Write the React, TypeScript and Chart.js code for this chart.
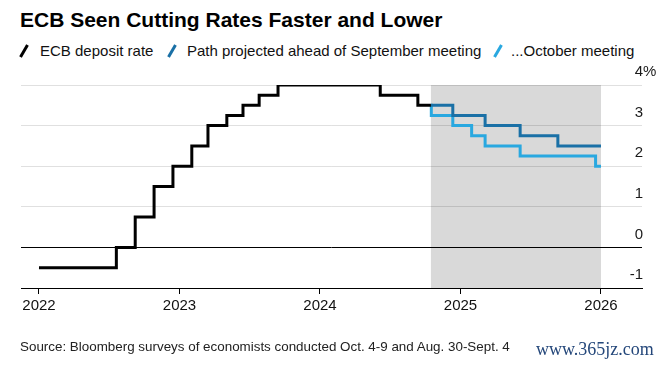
import React, { useEffect, useRef } from 'react';
import { Chart, registerables } from 'chart.js';

Chart.register(...registerables);

// ---- data ----
const depositDates = [
  '2022-01-01', '2022-07-21', '2022-09-08', '2022-10-27', '2022-12-15',
  '2023-02-02', '2023-03-16', '2023-05-04', '2023-06-15', '2023-07-27',
  '2023-09-14', '2024-06-06', '2024-09-12', '2024-10-16',
];
const depositRates = [-0.5, 0, 0.75, 1.5, 2.0, 2.5, 3.0, 3.25, 3.5, 3.75, 4.0, 3.75, 3.5, 3.5];

const septDates = ['2024-10-16', '2024-12-12', '2025-03-06', '2025-06-05', '2025-09-11', '2026-01-01'];
const septRates = [3.5, 3.25, 3.0, 2.75, 2.5, 2.5];

const octDates = ['2024-10-16', '2024-10-17', '2024-12-12', '2025-01-30', '2025-03-06', '2025-06-05', '2025-12-18', '2026-01-01'];
const octRates = [3.5, 3.25, 3.0, 2.75, 2.5, 2.25, 2.0, 2.0];

const yearTicks = [2022, 2023, 2024, 2025, 2026];
const rateTicks = [-1, 0, 1, 2, 3, 4];
const shadeStartDate = '2024-10-16';
const shadeEndDate = '2026-01-01';

const TITLE = 'ECB Seen Cutting Rates Faster and Lower';
const LEGEND_LABELS = ['ECB deposit rate', 'Path projected ahead of September meeting', '...October meeting'];
const SOURCE = 'Source: Bloomberg surveys of economists conducted Oct. 4-9 and Aug. 30-Sept. 4';
const WATERMARK = 'www.365jz.com';

// ---- styles ----
const FONT = '"Liberation Sans", Arial, Helvetica, sans-serif';
const BLACK = '#000000';
const DARK_BLUE = '#1a70a6';
const LIGHT_BLUE = '#29a8e0';
const SHADE = '#d9d9d9';
const GRID = 'rgba(0,0,0,0.12)';

function toYear(d: string): number {
  const [y, m, day] = d.split('-').map(Number);
  const start = Date.UTC(y, 0, 1);
  const end = Date.UTC(y + 1, 0, 1);
  return y + (Date.UTC(y, m - 1, day) - start) / (end - start);
}

function toPoints(dates: string[], values: number[]) {
  return dates.map((d, i) => ({ x: toYear(d), y: values[i] }));
}

const shadePlugin = {
  id: 'shade',
  beforeDraw(chart: any) {
    const { ctx, chartArea, scales } = chart;
    const x0 = scales.x.getPixelForValue(toYear(shadeStartDate));
    const x1 = scales.x.getPixelForValue(toYear(shadeEndDate));
    ctx.save();
    ctx.fillStyle = SHADE;
    ctx.fillRect(x0, chartArea.top, x1 - x0, chartArea.bottom - chartArea.top);
    ctx.restore();
  },
};

const yLabelPlugin = {
  id: 'ylabels',
  afterDraw(chart: any) {
    const { ctx, chartArea, scales } = chart;
    ctx.save();
    ctx.font = `15px ${FONT}`;
    ctx.fillStyle = '#1a1a1a';
    ctx.textBaseline = 'middle';
    const xr = chartArea.right + 1;
    rateTicks.forEach((v) => {
      const py = scales.y.getPixelForValue(v) - 13;
      ctx.textAlign = 'right';
      ctx.fillText(String(v), xr, py);
      if (v === rateTicks[rateTicks.length - 1]) {
        ctx.textAlign = 'left';
        ctx.fillText('%', xr, py);
      }
    });
    ctx.restore();
  },
};

function LegendIcon({ color, left }: { color: string; left: number }) {
  return (
    <svg
      width={10}
      height={14}
      style={{ position: 'absolute', left, top: 44 }}
    >
      <line x1={1.5} y1={13} x2={8.5} y2={1} stroke={color} strokeWidth={3} />
    </svg>
  );
}

export default function App() {
  const canvasRef = useRef<HTMLCanvasElement | null>(null);

  useEffect(() => {
    const canvas = canvasRef.current;
    if (!canvas) return;
    const chart = new Chart(canvas, {
      type: 'line',
      data: {
        datasets: [
          {
            label: LEGEND_LABELS[0],
            data: toPoints(depositDates, depositRates),
            borderColor: BLACK,
            borderWidth: 3,
            stepped: true,
            pointRadius: 0,
            fill: false,
            order: 0,
          },
          {
            label: LEGEND_LABELS[1],
            data: toPoints(septDates, septRates),
            borderColor: DARK_BLUE,
            borderWidth: 3,
            stepped: true,
            pointRadius: 0,
            fill: false,
            order: 1,
          },
          {
            label: LEGEND_LABELS[2],
            data: toPoints(octDates, octRates),
            borderColor: LIGHT_BLUE,
            borderWidth: 3,
            stepped: true,
            pointRadius: 0,
            fill: false,
            order: 2,
          },
        ],
      },
      options: {
        animation: false,
        responsive: false,
        maintainAspectRatio: false,
        layout: { padding: { left: 21, right: 19, top: 85, bottom: 0 } },
        plugins: {
          legend: { display: false },
          tooltip: { enabled: false },
          title: { display: false },
        },
        scales: {
          x: {
            type: 'linear',
            min: 2021.872,
            max: 2026.292,
            afterBuildTicks: (s: any) => {
              s.ticks = yearTicks.map((v) => ({ value: v }));
            },
            afterFit: (s: any) => {
              s.height = 79;
            },
            grid: {
              drawOnChartArea: false,
              drawTicks: true,
              tickLength: 6,
              color: '#000',
              lineWidth: 1,
            },
            border: { display: true, color: '#000', width: 1 },
            ticks: {
              autoSkip: false,
              maxRotation: 0,
              padding: 3,
              color: '#111',
              font: { family: FONT, size: 15 },
              callback: (v: any) => String(v),
            },
          },
          y: {
            type: 'linear',
            position: 'right',
            min: -1,
            max: 4,
            afterBuildTicks: (s: any) => {
              s.ticks = rateTicks.map((v) => ({ value: v }));
            },
            afterFit: (s: any) => {
              s.width = 0;
            },
            ticks: { display: false },
            grid: {
              drawTicks: false,
              lineWidth: 1,
              color: (c: any) => (c.tick && (c.tick.value === 0 || c.tick.value === -1) ? '#000' : GRID),
            },
            border: { display: false },
          },
        },
      } as any,
      plugins: [shadePlugin, yLabelPlugin],
    });
    return () => chart.destroy();
  }, []);

  const legendText: React.CSSProperties = {
    position: 'absolute',
    top: 42,
    fontFamily: FONT,
    fontSize: 15,
    lineHeight: '18px',
    color: '#111',
    whiteSpace: 'nowrap',
  };

  return (
    <div
      style={{
        position: 'fixed',
        left: 0,
        top: 0,
        width: 661,
        height: 367,
        background: '#fff',
        overflow: 'hidden',
      }}
    >
      <div
        style={{
          position: 'absolute',
          left: 20,
          top: 8,
          fontFamily: FONT,
          fontWeight: 'bold',
          fontSize: 21,
          lineHeight: '24px',
          color: '#000',
          whiteSpace: 'nowrap',
        }}
      >
        {TITLE}
      </div>
      <LegendIcon color={BLACK} left={19} />
      <div style={{ ...legendText, left: 40 }}>{LEGEND_LABELS[0]}</div>
      <LegendIcon color={DARK_BLUE} left={167} />
      <div style={{ ...legendText, left: 187 }}>{LEGEND_LABELS[1]}</div>
      <LegendIcon color={LIGHT_BLUE} left={493} />
      <div style={{ ...legendText, left: 511 }}>{LEGEND_LABELS[2]}</div>
      <canvas
        ref={canvasRef}
        width={661}
        height={367}
        style={{ position: 'absolute', left: 0, top: 0, width: 661, height: 367 }}
      />
      <div
        style={{
          position: 'absolute',
          left: 20,
          top: 339,
          fontFamily: FONT,
          fontSize: 13.4,
          lineHeight: '15px',
          color: '#222',
          whiteSpace: 'nowrap',
        }}
      >
        {SOURCE}
      </div>
      <div
        style={{
          position: 'absolute',
          left: 536,
          top: 339,
          fontFamily: '"Liberation Serif", "Times New Roman", serif',
          fontSize: 18,
          lineHeight: '20px',
          color: '#24477a',
          whiteSpace: 'nowrap',
        }}
      >
        {WATERMARK}
      </div>
    </div>
  );
}
